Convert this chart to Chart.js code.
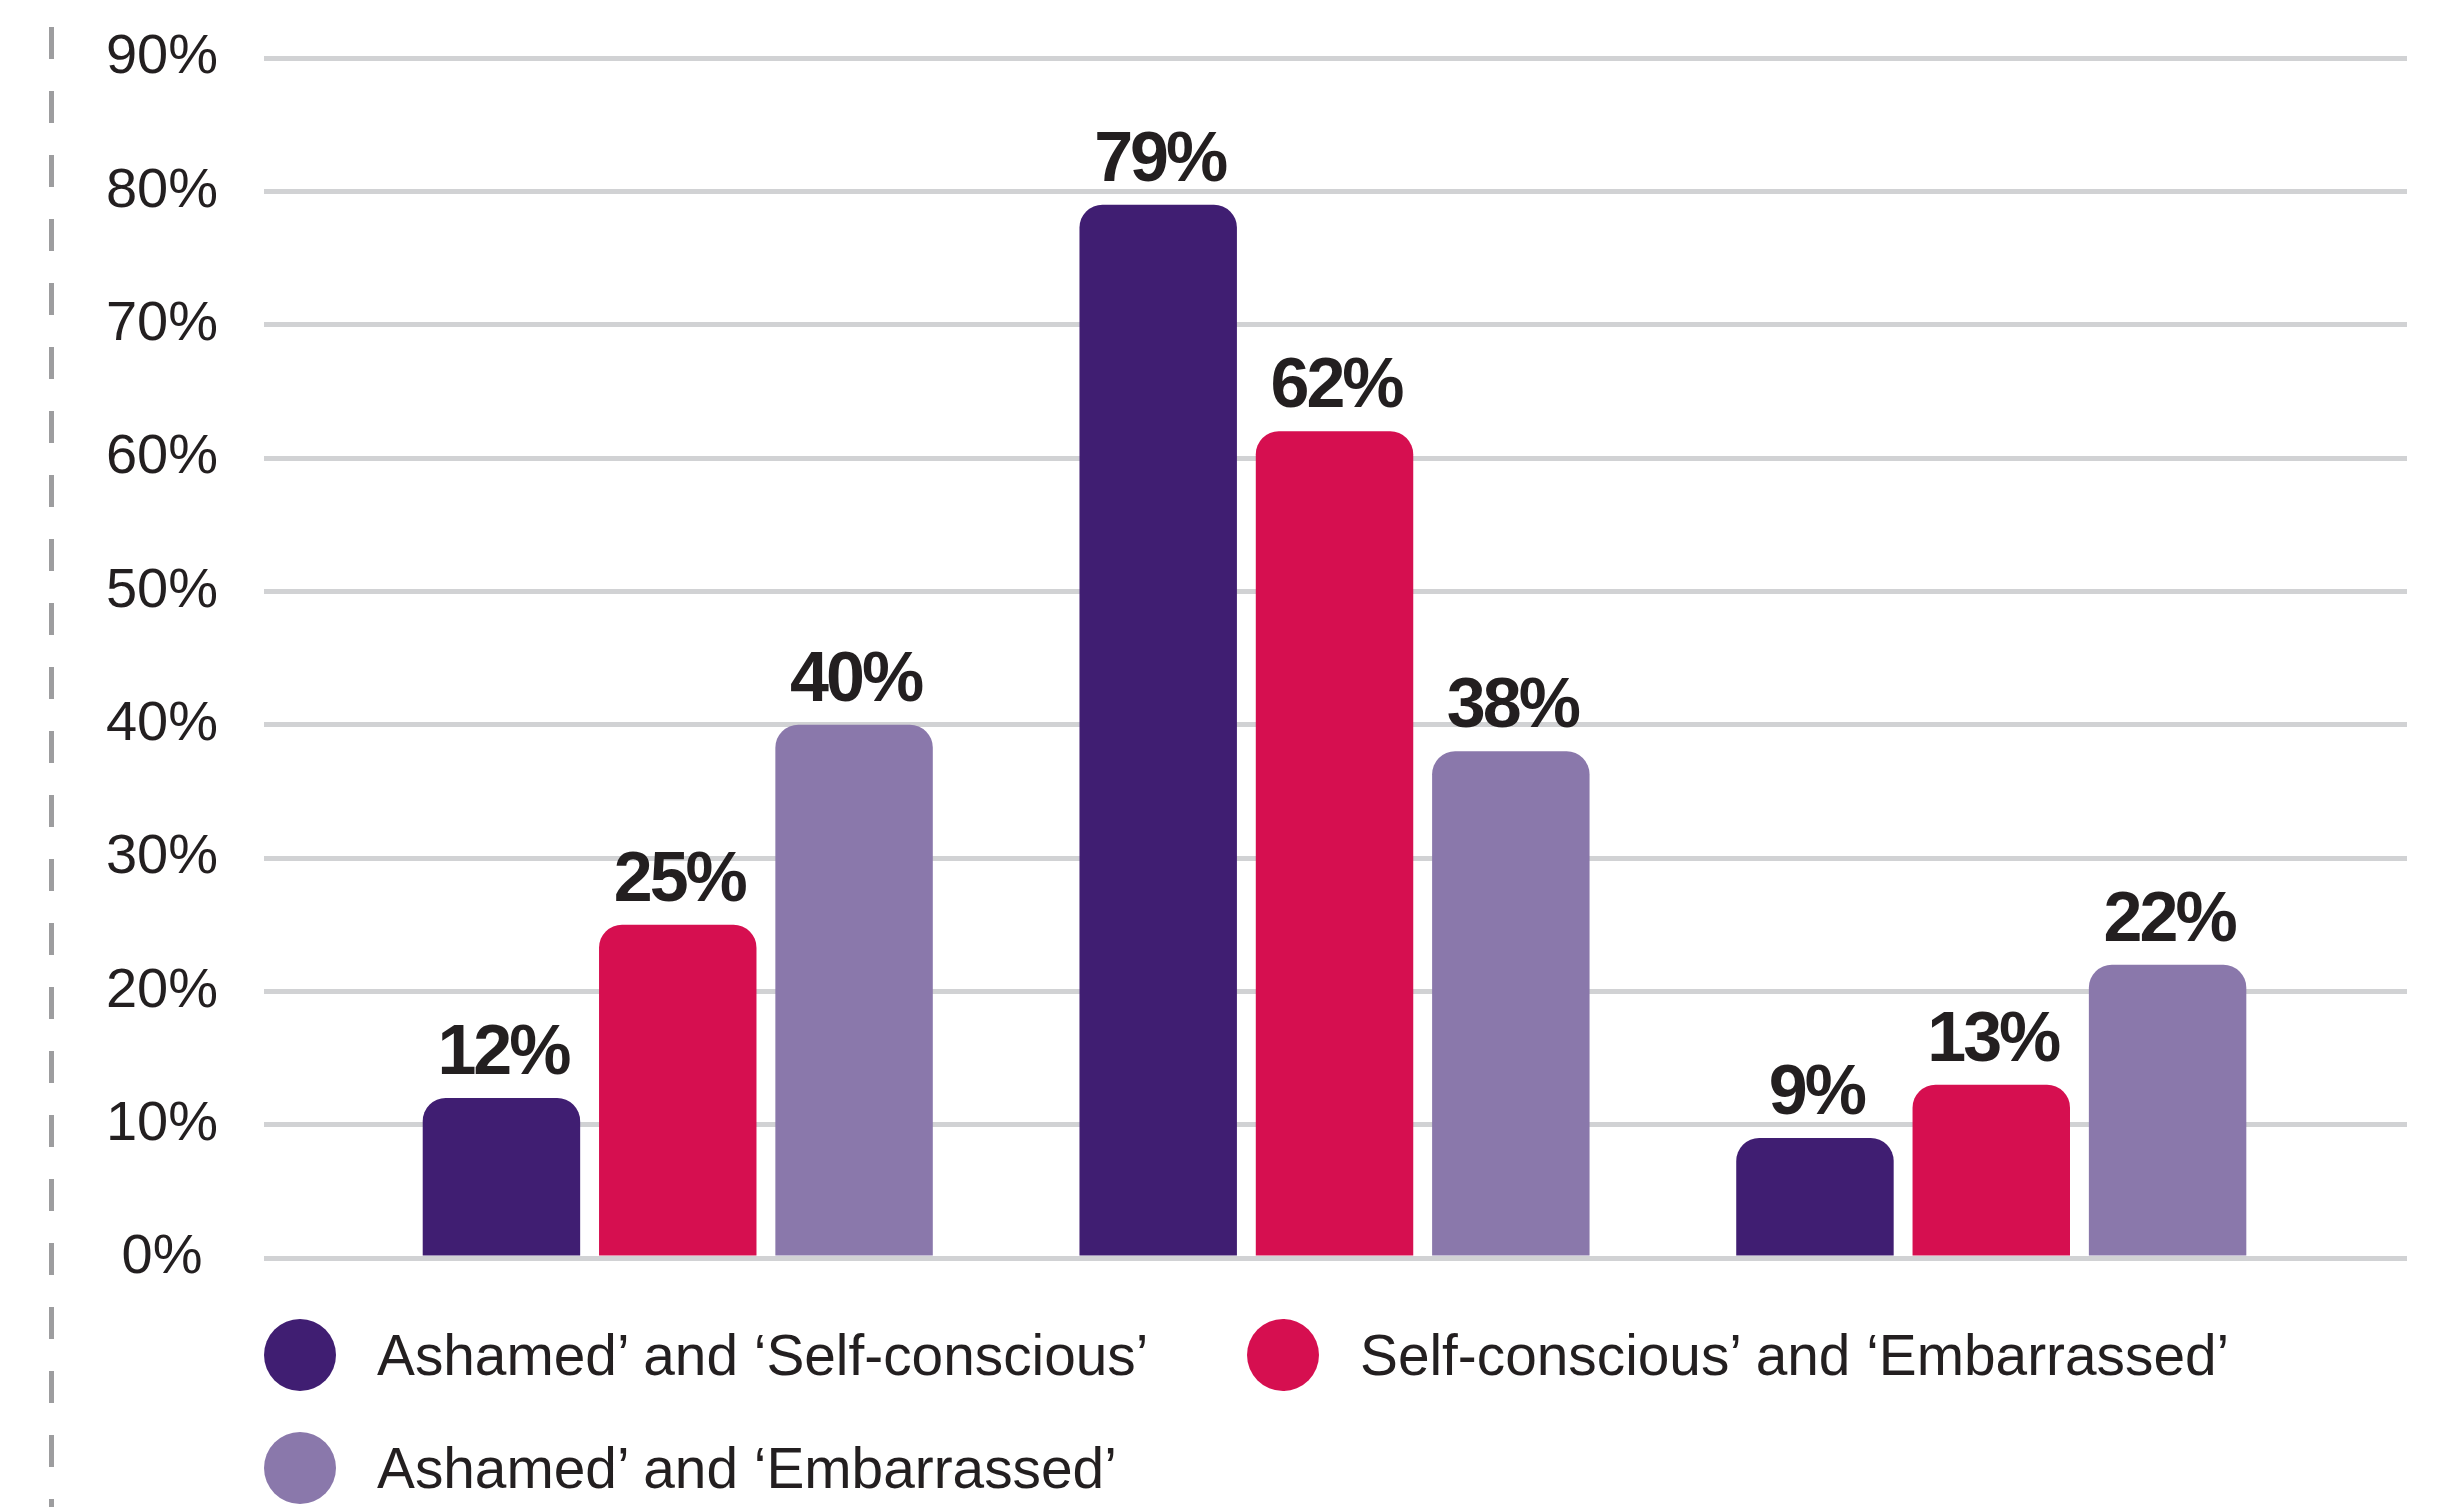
<!DOCTYPE html>
<html>
<head>
<meta charset="utf-8">
<script src="https://cdn.jsdelivr.net/npm/chart.js@4.4.1/dist/chart.umd.min.js"></script>
<style>
  html, body { margin: 0; padding: 0; background: #ffffff; }
  #wrap { position: relative; width: 2446px; height: 1507px; overflow: hidden; background: #ffffff; }
  #chart { position: absolute; left: 0; top: 0; }
  #dash {
    position: absolute; left: 49px; top: 27px; width: 5px; height: 1480px;
    background: repeating-linear-gradient(to bottom, #9d9d9f 0px, #9d9d9f 32px, transparent 32px, transparent 64px);
  }
  #legend {
    position: absolute; left: 264px; top: 1319px;
    display: grid; grid-template-columns: 983px auto; row-gap: 41px;
    font-family: 'Liberation Sans', Arial, sans-serif; font-size: 56.8px; color: #231f20;
  }
  .item { display: flex; align-items: center; height: 72px; white-space: nowrap; }
  .dot { width: 72px; height: 72px; border-radius: 50%; margin-right: 41px; flex: none; }
</style>
</head>
<body>
<div id="wrap">
  <div id="dash"></div>
  <canvas id="chart" width="2446" height="1507"></canvas>
  <div id="legend"></div>
</div>
<script>
// ---- Data ----
const categories = ['Group 1', 'Group 2', 'Group 3']; // groups carry no visible labels
const seriesNames = [
  'Ashamed\u2019 and \u2018Self-conscious\u2019',
  'Self-conscious\u2019 and \u2018Embarrassed\u2019',
  'Ashamed\u2019 and \u2018Embarrassed\u2019'
];
const ashamedSelfConscious = [12, 79, 9];
const selfConsciousEmbarrassed = [25, 62, 13];
const ashamedEmbarrassed = [40, 38, 22];
const seriesColors = ['#401e72', '#d60f50', '#8a78ab'];
const yTicks = [0, 10, 20, 30, 40, 50, 60, 70, 80, 90];

const seriesValues = [ashamedSelfConscious, selfConsciousEmbarrassed, ashamedEmbarrassed];

Chart.defaults.font.family = "'Liberation Sans', Arial, sans-serif";

const valueLabelPlugin = {
  id: 'valueLabels',
  afterDatasetsDraw(chart) {
    const ctx = chart.ctx;
    ctx.save();
    ctx.font = "bold 70px 'Liberation Sans', Arial, sans-serif";
    ctx.fillStyle = '#231f20';
    ctx.textAlign = 'center';
    ctx.textBaseline = 'alphabetic';
    if ('letterSpacing' in ctx) ctx.letterSpacing = '-3px';
    chart.data.datasets.forEach((ds, di) => {
      chart.getDatasetMeta(di).data.forEach((bar, i) => {
        ctx.fillText(ds.data[i].y + '%', bar.x + 1.5, bar.y - 24);
      });
    });
    ctx.restore();
  }
};

const chart = new Chart(document.getElementById('chart'), {
  type: 'bar',
  data: {
    datasets: seriesNames.map((name, s) => ({
      label: name,
      data: seriesValues[s].map((v, i) => ({ x: i, y: v })),
      backgroundColor: seriesColors[s],
      borderRadius: { topLeft: 23, topRight: 23, bottomLeft: 0, bottomRight: 0 },
      borderSkipped: 'start',
      barPercentage: 0.893,
      categoryPercentage: 0.8054
    }))
  },
  options: {
    responsive: false,
    animation: false,
    devicePixelRatio: 1,
    layout: { padding: { left: 0, right: 39, top: 58, bottom: 249 } },
    plugins: { legend: { display: false }, tooltip: { enabled: false } },
    scales: {
      x: {
        type: 'linear',
        display: false,
        min: -0.630,
        max: 2.633,
        offset: false,
        grid: { display: false },
        ticks: { stepSize: 1, includeBounds: false }
      },
      y: {
        min: 0,
        max: 90,
        afterBuildTicks: (scale) => { scale.ticks = yTicks.map(v => ({ value: v })); },
        afterFit: (scale) => {
          scale.width = 264;
          scale.paddingTop = 0;
          scale.paddingBottom = 0;
        },
        border: { display: false },
        grid: { color: '#d1d2d4', lineWidth: 5, drawTicks: false },
        ticks: {
          crossAlign: 'center',
          padding: 46,
          color: '#231f20',
          font: { size: 56 },
          callback: (v) => v + '%'
        }
      }
    }
  },
  plugins: [valueLabelPlugin]
});

// HTML legend built from the series arrays
const legend = document.getElementById('legend');
seriesNames.forEach((name, s) => {
  const item = document.createElement('div');
  item.className = 'item';
  const dot = document.createElement('span');
  dot.className = 'dot';
  dot.style.background = seriesColors[s];
  const txt = document.createElement('span');
  txt.textContent = name;
  item.appendChild(dot);
  item.appendChild(txt);
  legend.appendChild(item);
});
</script>
</body>
</html>
